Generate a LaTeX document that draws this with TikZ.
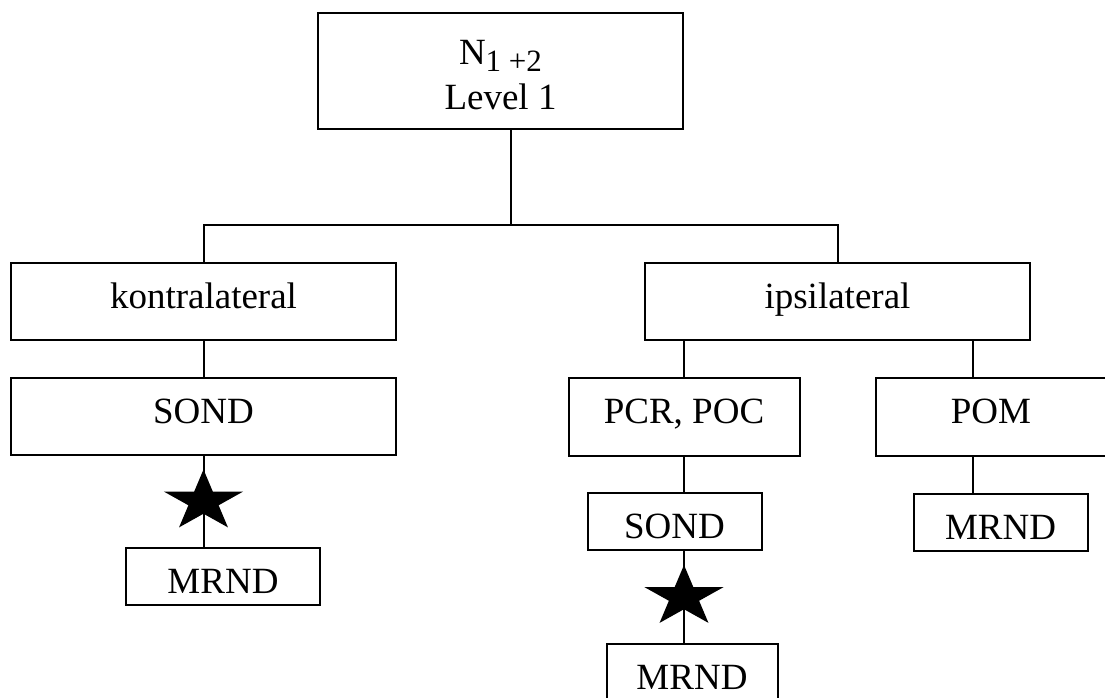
\documentclass[tikz,border=0pt]{standalone}
\usepackage{fontspec}
\setmainfont{Liberation Serif}
\usetikzlibrary{shapes.geometric, positioning, calc}

\begin{document}
\begin{tikzpicture}[
      x=1pt, y=1pt,
      line width=2pt,
      node distance=38pt and 38pt,
      rootbox/.style={rectangle, draw, align=center, inner sep=0pt, outer sep=0pt,
                  minimum width=365pt, minimum height=116pt,
                  font=\fontsize{37}{45}\selectfont},
      box/.style={rectangle, draw, align=center, inner sep=0pt, outer sep=0pt,
                  minimum width=385pt, minimum height=77pt,
                  font=\fontsize{37}{45}\selectfont,
                  text height=25pt, text depth=11.5pt},
      midbox/.style={box, minimum width=231pt, minimum height=78pt},
      smallbox/.style={box, minimum width=174pt, minimum height=57pt,
                  text height=33pt, text depth=0pt},
      starmark/.style={star, star points=5, star point ratio=2.618,
                  fill, draw=none, inner sep=0pt, minimum size=64pt, xscale=1.3}
    ]
    \useasboundingbox (0,0) rectangle (1105,-698);

    \node[rootbox] (root) at (500.5,-71)
      {\rule{0pt}{33pt}N{\fontsize{31}{31}\selectfont\raisebox{-7pt}{1 +2}}\\Level 1};
    \coordinate (bus) at (511,-225);

    \node[box, below left=38pt and 115pt of bus] (kontra) {kontralateral};
    \node[box, below right=38pt and 134pt of bus] (ipsi) {ipsilateral};

    \node[box, below=of kontra] (sondk) {SOND};
    \node[smallbox, minimum width=194pt, below=93pt of sondk, xshift=19.5pt] (mrndk) {MRND};

    \node[midbox, below left=of ipsi.south] (pcr) {PCR, POC};
    \node[midbox, below right=of ipsi.south] (pom) {POM};
    \node[smallbox, below=37pt of pcr, xshift=-9.5pt] (sondi) {SOND};
    \node[smallbox, minimum width=171pt, below=94pt of sondi, xshift=17.5pt] (mrndi) {MRND};
    \node[smallbox, below=of pom, xshift=9.5pt] (mrndp) {MRND};
    \coordinate (pomtap) at ([xshift=-18.5pt]pom.north);

    \draw (root.south -| bus) -- (bus);
    \draw (kontra.north) |- (bus) -| (ipsi.north);
    \draw (kontra) -- (sondk);
    \draw (sondk.south) -- (sondk.south |- mrndk.north);
    \draw (pcr.north |- ipsi.south) -- (pcr.north);
    \draw (pomtap |- ipsi.south) -- (pomtap);
    \draw (pcr.south) -- (pcr.south |- sondi.north);
    \draw (pcr.south |- sondi.south) -- (pcr.south |- mrndi.north);
    \draw (pomtap |- pom.south) -- (pomtap |- mrndp.north);

    % stars on the SOND -> MRND links
    \node[starmark] (stark) at ($(sondk.south)!0.5!(sondk.south |- mrndk.north)$) {};
    \node[starmark] (stari) at ($(pcr.south |- sondi.south)!0.5!(pcr.south |- mrndi.north)$) {};

  \end{tikzpicture}
\end{document}
